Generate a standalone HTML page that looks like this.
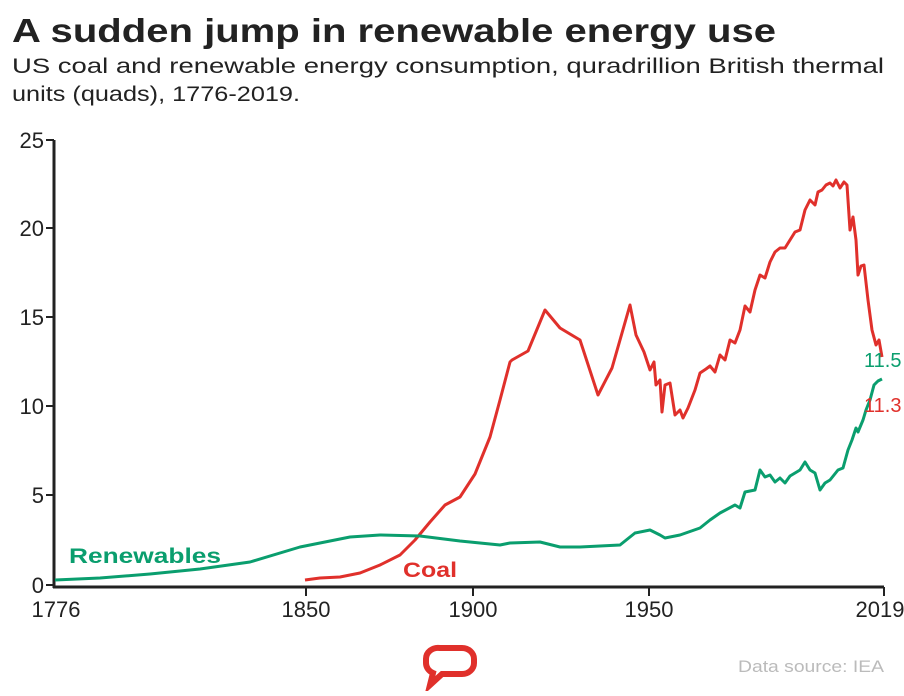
<!DOCTYPE html>
<html><head><meta charset="utf-8"><style>
body{margin:0;width:904px;height:691px;background:#fff;overflow:hidden;font-family:"Liberation Sans",sans-serif}
</style></head><body>
<svg width="904" height="691" xmlns="http://www.w3.org/2000/svg" style="font-family:'Liberation Sans',sans-serif">
<text x="12" y="42" font-size="33" font-weight="bold" fill="#222" textLength="764" lengthAdjust="spacingAndGlyphs">A sudden jump in renewable energy use</text>
<text x="12" y="73" font-size="21" fill="#222" textLength="872" lengthAdjust="spacingAndGlyphs">US coal and renewable energy consumption, quradrillion British thermal</text>
<text x="12" y="101" font-size="21" fill="#222" textLength="288" lengthAdjust="spacingAndGlyphs">units (quads), 1776-2019.</text>
<g stroke="#222" stroke-width="3">
<line x1="54" y1="140" x2="54" y2="588"/>
<line x1="53" y1="587" x2="884" y2="587"/>
</g>
<g stroke="#222" stroke-width="2">
<line x1="46" y1="140" x2="54" y2="140"/><line x1="46" y1="228" x2="54" y2="228"/><line x1="46" y1="317" x2="54" y2="317"/><line x1="46" y1="406" x2="54" y2="406"/><line x1="46" y1="495" x2="54" y2="495"/><line x1="46" y1="585" x2="54" y2="585"/>
<line x1="306" y1="587" x2="306" y2="596"/><line x1="473" y1="587" x2="473" y2="596"/><line x1="649" y1="587" x2="649" y2="596"/><line x1="884" y1="587" x2="884" y2="596"/>
</g>
<g font-size="22" fill="#222" text-anchor="end">
<text x="44" y="148">25</text><text x="44" y="236">20</text><text x="44" y="325">15</text><text x="44" y="414">10</text><text x="44" y="503">5</text><text x="44" y="593">0</text>
</g>
<g font-size="22" fill="#222" text-anchor="middle">
<text x="56" y="617">1776</text><text x="306" y="617">1850</text><text x="473" y="617">1900</text><text x="649" y="617">1950</text><text x="880" y="617">2019</text>
</g>
<polyline fill="none" stroke="#e0302b" stroke-width="3" stroke-linejoin="round" points="305,580 320,578 340,577 360,573 380,565 400,555 415,540 430,522 445,505 460,497 475,474 490,437 500,400 510,362 512,360 528,351 545,310 560,328 580,340 598,395 612,368 630,305 636,335 644,352 650,370 654,362 656,385 660,380 662,412 665,385 670,383 675,415 680,410 683,418 688,408 695,390 700,373 706,369 710,366 715,372 720,355 725,360 730,340 735,343 740,330 745,306 750,312 755,290 760,275 765,278 770,262 775,252 780,248 785,248 790,240 795,232 800,230 805,210 810,200 815,205 818,192 822,190 826,185 830,183 833,186 836,180 840,188 844,182 847,185 850,230 853,217 856,240 858,275 861,266 864,265 868,300 872,330 876,345 879,340 882,357"/>
<polyline fill="none" stroke="#0a9e6e" stroke-width="3" stroke-linejoin="round" points="55,580 100,578 150,574 200,569 250,562 300,547 350,537 380,535 420,536 460,541 500,545 510,543 540,542 560,547 580,547 620,545 635,533 650,530 660,535 665,538 680,535 700,528 710,520 720,513 735,505 740,508 745,492 755,490 760,470 765,477 770,475 775,482 780,478 785,483 790,476 800,470 805,462 810,470 815,473 820,490 825,483 830,480 838,470 843,468 848,450 852,440 856,428 858,432 863,420 866,410 870,400 874,385 878,381 882,379"/>
<text x="69" y="563" font-size="21" font-weight="bold" fill="#0a9e6e" textLength="152" lengthAdjust="spacingAndGlyphs">Renewables</text>
<text x="403" y="577" font-size="21" font-weight="bold" fill="#e0302b" textLength="54" lengthAdjust="spacingAndGlyphs">Coal</text>
<text x="864" y="367" font-size="20" fill="#0a9e6e">11.5</text>
<text x="864" y="412" font-size="20" fill="#e0302b">11.3</text>
<path d="M440,648 h22 a12,11 0 0 1 12,11 v4 a12,11 0 0 1 -12,11 h-20 l-12,11 l3,-12 a12,11 0 0 1 -7,-10 v-4 a12,11 0 0 1 14,-11 z" fill="none" stroke="#e0302b" stroke-width="6"/>
<text x="738" y="672" font-size="17" fill="#bbb" textLength="146" lengthAdjust="spacingAndGlyphs">Data source: IEA</text>
</svg>
</body></html>
